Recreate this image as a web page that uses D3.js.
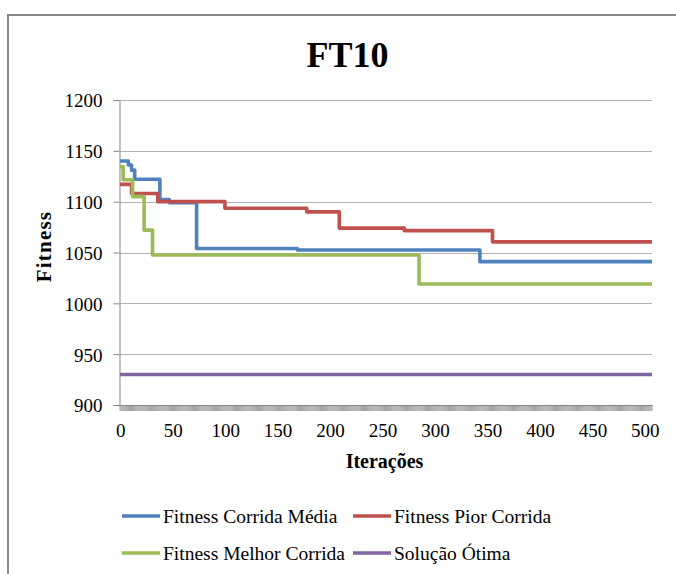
<!DOCTYPE html>
<html><head><meta charset="utf-8">
<script src="https://cdn.jsdelivr.net/npm/d3@7"></script>
<style>body{margin:0;background:#fff}svg{display:block}</style>
</head><body>
<svg id="c" width="676" height="574"></svg>
<script>
// ---- data ----
const title = "FT10";
const xTicks = [0, 50, 100, 150, 200, 250, 300, 350, 400, 450, 500];
const yTicks = [900, 950, 1000, 1050, 1100, 1150, 1200];
const seriesNames = ["Fitness Corrida Média", "Fitness Pior Corrida", "Fitness Melhor Corrida", "Solução Ótima"];
const seriesColors = ["#4F81BD", "#C0504D", "#9BBB59", "#8064A2"];
// iteration at which each value starts (step series)
const mediaIter = [0, 8, 11, 14, 38, 47, 73, 169, 343];
const mediaFit  = [1140, 1136, 1131, 1122, 1102, 1099, 1054, 1052.5, 1041];
const piorIter  = [0, 11, 36, 100, 178, 209, 271, 355];
const piorFit   = [1117, 1108, 1100, 1093.5, 1090, 1074, 1071.5, 1060.5];
const melhorIter = [0, 3, 12, 23, 31, 285];
const melhorFit  = [1134.5, 1121.5, 1105, 1072, 1047.5, 1019];
const otimaIter = [0];
const otimaFit  = [930];
const lastIter = 507;

// ---- drawing ----
const svg = d3.select("#c");
const x = d3.scaleLinear().domain([0, lastIter]).range([120, 652]);
const y = d3.scaleLinear().domain([900, 1200]).range([405, 100]);
const serif = "'Liberation Serif', 'Times New Roman', serif";

// outer frame (continues beyond the picture)
svg.append("rect").attr("x", 8).attr("y", 15).attr("width", 720).attr("height", 620)
  .attr("fill", "none").attr("stroke", "#878787").attr("stroke-width", 2);

// gridlines
svg.append("g").selectAll("line").data(yTicks.filter(v => v > 900)).join("line")
  .attr("x1", 120).attr("x2", 652)
  .attr("y1", d => Math.round(y(d)) + 0.5).attr("y2", d => Math.round(y(d)) + 0.5)
  .attr("stroke", "#b3b3b3").attr("stroke-width", 1);

// y axis
const yAxis = d3.axisLeft(y).tickValues(yTicks).tickSize(6).tickPadding(11).tickFormat(d3.format("d"));
const gy = svg.append("g").attr("transform", "translate(119.5,0)").call(yAxis);
gy.select(".domain").attr("stroke", "#878787");
gy.selectAll(".tick line").attr("stroke", "#878787");
gy.selectAll(".tick text").attr("font-family", serif).attr("font-size", 19).attr("fill", "#000").attr("dy", "0.36em");

// x axis: dense minor ticks at each iteration
const gxTicks = svg.append("g");
gxTicks.selectAll("line").data(d3.range(0, lastIter + 1)).join("line")
  .attr("x1", d => x(d)).attr("x2", d => x(d)).attr("y1", 405).attr("y2", 411)
  .attr("stroke", "#8a8a8a").attr("stroke-width", 0.8);
const xAxis = d3.axisBottom(x).tickValues(xTicks).tickSize(0).tickPadding(0).tickFormat(d3.format("d"));
const gx = svg.append("g").attr("transform", "translate(0,405)").call(xAxis);
gx.select(".domain").attr("stroke", "#878787");
gx.selectAll(".tick text").attr("font-family", serif).attr("font-size", 19).attr("fill", "#000")
  .attr("dy", 0).attr("y", 32);
gx.selectAll(".tick").attr("transform", d => `translate(${x(d) + 0.7},0)`);

// series
const seriesData = [
  [mediaIter, mediaFit], [piorIter, piorFit], [melhorIter, melhorFit], [otimaIter, otimaFit]
].map(([it, v]) => {
  const pts = it.map((d, i) => [d, v[i]]);
  pts.push([lastIter, v[v.length - 1]]);
  return pts;
});
const line = d3.line().x(d => x(d[0])).y(d => y(d[1])).curve(d3.curveStepAfter);
const order = [3, 0, 1, 2];
svg.append("g").selectAll("path").data(order).join("path")
  .attr("d", i => line(seriesData[i]))
  .attr("fill", "none").attr("stroke", i => seriesColors[i]).attr("stroke-width", 3.6)
  .attr("stroke-linejoin", "round");

// title
svg.append("text").attr("x", 347.5).attr("y", 66.5).attr("text-anchor", "middle")
  .attr("font-family", serif).attr("font-weight", "bold").attr("font-size", 36).text(title);

// axis titles
svg.append("text").attr("x", 384.5).attr("y", 468).attr("text-anchor", "middle")
  .attr("font-family", serif).attr("font-weight", "bold").attr("font-size", 20).text("Iterações");
svg.append("text").attr("transform", "translate(51,246.5) rotate(-90)").attr("text-anchor", "middle")
  .attr("font-family", serif).attr("font-weight", "bold").attr("font-size", 21)
  .attr("letter-spacing", 1.2).text("Fitness");

// legend
const legPos = [[122, 516], [353, 516], [122, 553], [353, 553]];
const leg = svg.append("g").selectAll("g").data(seriesNames).join("g")
  .attr("transform", (d, i) => `translate(${legPos[i][0]},${legPos[i][1]})`);
leg.append("line").attr("x1", 0).attr("x2", 38).attr("y1", 0).attr("y2", 0)
  .attr("stroke", (d, i) => seriesColors[i]).attr("stroke-width", 3.6);
leg.append("text").attr("x", 41).attr("y", 7.3).attr("font-family", serif).attr("font-size", 19.5)
  .attr("fill", "#000").text(d => d);
</script>
</body></html>
